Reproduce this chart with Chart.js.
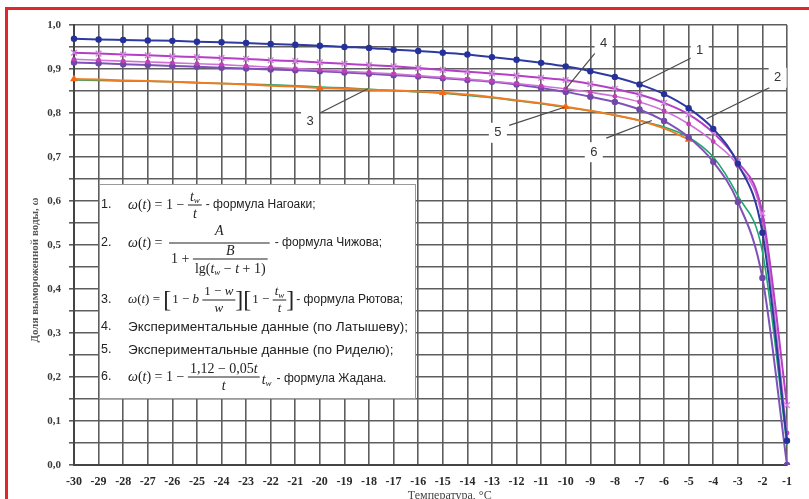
<!DOCTYPE html>
<html>
<head>
<meta charset="utf-8">
<script src="https://cdn.jsdelivr.net/npm/chart.js@4.4.1/dist/chart.umd.min.js"></script>
<style>
html, body { margin: 0; padding: 0; background: #fff; overflow: hidden; }
#wrap { position: relative; width: 809px; height: 499px; }
canvas { position: absolute; left: 0; top: 0; }
#frame { position: absolute; left: 5px; top: 7px; width: 830px; height: 530px;
  border-top: 3px solid #e1262e; border-left: 3px solid #e1262e; pointer-events: none; }
</style>
</head>
<body>
<div id="wrap">
	<canvas id="freezeChart" width="809" height="499"></canvas>
	<div id="frame"></div>
</div>
<script>
// temperatures, deg C
var temps = [-30, -29, -28, -27, -26, -25, -24, -23, -22, -21, -20, -19, -18, -17, -16,
	-15, -14, -13, -12, -11, -10, -9, -8, -7, -6, -5, -4, -3, -2, -1];
var yLabels = ['0,0', '0,1', '0,2', '0,3', '0,4', '0,5', '0,6', '0,7', '0,8', '0,9', '1,0'];

// curves
var nagoaki = [0.969, 0.967, 0.966, 0.965, 0.964, 0.962, 0.961, 0.959, 0.957, 0.955, 0.953, 0.950, 0.948, 0.944, 0.941,
	0.937, 0.933, 0.927, 0.921, 0.914, 0.906, 0.895, 0.882, 0.865, 0.843, 0.811, 0.764, 0.685, 0.528, 0.055];
var latyshev = [0.937, 0.935, 0.933, 0.931, 0.929, 0.927, 0.925, 0.923, 0.920, 0.918, 0.915, 0.912, 0.909, 0.906, 0.902,
	0.898, 0.894, 0.890, 0.885, 0.880, 0.875, 0.866, 0.855, 0.842, 0.823, 0.797, 0.755, 0.690, 0.572, 0.136];
var chizhov = [0.922, 0.920, 0.918, 0.916, 0.914, 0.912, 0.910, 0.907, 0.904, 0.901, 0.898, 0.895, 0.892, 0.889, 0.885,
	0.881, 0.877, 0.872, 0.867, 0.861, 0.855, 0.847, 0.838, 0.825, 0.805, 0.775, 0.735, 0.680, 0.557, 0.073];
var zhadan = [0.915, 0.913, 0.911, 0.909, 0.907, 0.905, 0.903, 0.901, 0.899, 0.897, 0.895, 0.892, 0.889, 0.886, 0.883,
	0.879, 0.875, 0.871, 0.865, 0.857, 0.848, 0.837, 0.825, 0.808, 0.782, 0.745, 0.689, 0.598, 0.425, 0.0];
var ryutov = [0.875, 0.874, 0.873, 0.872, 0.871, 0.869, 0.867, 0.866, 0.864, 0.862, 0.859, 0.857, 0.854, 0.851, 0.848,
	0.845, 0.840, 0.835, 0.828, 0.821, 0.813, 0.805, 0.795, 0.783, 0.768, 0.745, 0.700, 0.612, 0.485, 0.045];
var ridel = [0.877, 0.876, 0.874, 0.873, 0.871, 0.869, 0.867, 0.865, 0.862, 0.860, 0.857, 0.855, 0.853, 0.851, 0.849,
	0.846, 0.842, 0.836, 0.829, 0.822, 0.814, 0.805, 0.795, 0.783, 0.765, 0.740, null, null, null, null];
var ridelMeasured = [-30, -20, -15, -10, -5]; // triangles

// numbered callouts, in data units (temperature, fraction)
var callouts = [
	{ text: '1', at: [-4.55, 0.943], lines: [[[-4.9, 0.925], [-7.0, 0.866]]] },
	{ text: '4', at: [-8.46, 0.957], lines: [[[-8.75, 0.94], [-10.0, 0.855]]] },
	{ text: '2', at: [-1.38, 0.880], lines: [[[-1.7, 0.858], [-4.27, 0.787]]] },
	{ text: '3', at: [-20.4, 0.780], lines: [[[-20.0, 0.800], [-18.05, 0.855]]] },
	{ text: '5', at: [-12.76, 0.755], lines: [[[-12.3, 0.772], [-10.05, 0.813]]] },
	{ text: '6', at: [-8.86, 0.711], lines: [[[-8.35, 0.743], [-6.5, 0.783]]] }
];

var MI = 'italic 14px "Liberation Serif"', MR = '14px "Liberation Serif"', MS = 'italic 9px "Liberation Serif"';
var MI3 = 'italic 13px "Liberation Serif"', MR3 = '13px "Liberation Serif"';
var TX = '12px "Liberation Sans"', TX2 = '13.5px "Liberation Sans"', NUM = '12.5px "Liberation Sans"';

function measure(ctx, parts) {
	var w = 0;
	parts.forEach(function (p) { ctx.font = p[1]; w += ctx.measureText(p[0]).width; });
	return w;
}
function put(ctx, x, y, parts) {
	parts.forEach(function (p) {
		ctx.font = p[1];
		ctx.fillText(p[0], x, y + (p[2] || 0));
		x += ctx.measureText(p[0]).width;
	});
	return x;
}
function frac(ctx, x, y, num, den, gapUp, gapDown) {
	var wn = measure(ctx, num), wd = measure(ctx, den);
	var w = Math.max(wn, wd) + 4;
	put(ctx, x + (w - wn) / 2, y - (gapUp || 8), num);
	put(ctx, x + (w - wd) / 2, y + (gapDown || 9), den);
	ctx.fillRect(x, y - 0.5, w, 1);
	return x + w;
}

function drawFormulaBox(ctx) {
	var L = 99, T = 184, R = 416, B = 399;
	ctx.save();
	ctx.fillStyle = '#fff';
	ctx.fillRect(L, T, R - L, B - T);
	ctx.strokeStyle = '#9a9a9a';
	ctx.lineWidth = 1;
	ctx.strokeRect(L + 0.5, T + 0.5, R - L - 1, B - T - 1);
	ctx.fillStyle = '#222';
	ctx.textAlign = 'left';
	ctx.textBaseline = 'middle';
	var tw = [['t', MI], ['w', MS, 4]];
	var x;

	// 1
	put(ctx, 101, 205, [['1.', NUM]]);
	x = put(ctx, 128, 205, [['ω', MI], ['(', MR], ['t', MI], [')', MR], [' = 1 − ', MR]]);
	x = frac(ctx, x, 205, tw, [['t', MI]]);
	put(ctx, x + 4, 205, [['- формула Нагоаки;', TX]]);

	// 2
	put(ctx, 101, 243, [['2.', NUM]]);
	x = put(ctx, 128, 243, [['ω', MI], ['(', MR], ['t', MI], [')', MR], [' = ', MR]]);
	var lg = [['lg(', MR], ['t', MI], ['w', MS, 4], [' − ', MR], ['t', MI], [' + 1)', MR]];
	var one = [['1 + ', MR]];
	var denW = measure(ctx, one) + measure(ctx, lg) + 4;
	var barL = x + 3, barW = denW + 4;
	ctx.fillRect(barL, 242.5, barW, 1);
	put(ctx, barL + (barW - measure(ctx, [['A', MI]])) / 2, 231, [['A', MI]]);
	var x2 = put(ctx, barL + 2, 259, one);
	frac(ctx, x2, 259, [['B', MI]], lg, 8, 10);
	put(ctx, barL + barW + 5, 243, [['- формула Чижова;', TX]]);

	// 3
	put(ctx, 101, 300, [['3.', NUM]]);
	var BR = '24px "Liberation Serif"';
	x = put(ctx, 128, 300, [['ω', MI3], ['(', MR3], ['t', MI3], [')', MR3], [' = ', MR3], ['[', BR, 1]]);
	x = put(ctx, x + 1, 300, [['1 − ', MR3], ['b', MI3], [' ', MR3]]);
	x = frac(ctx, x, 300, [['1 − ', MR3], ['w', MI3]], [['w', MI3]]);
	x = put(ctx, x, 300, [[']', BR, 1], ['[', BR, 1]]);
	x = put(ctx, x + 1, 300, [['1 − ', MR3]]);
	x = frac(ctx, x, 300, [['t', MI3], ['w', MS, 4]], [['t', MI3]]);
	x = put(ctx, x, 300, [[']', BR, 1]]);
	put(ctx, x + 2, 300, [['- формула Рютова;', TX]]);

	// 4, 5
	put(ctx, 101, 327, [['4.', NUM]]);
	put(ctx, 128, 327, [['Экспериментальные данные (по Латышеву);', TX2]]);
	put(ctx, 101, 350, [['5.', NUM]]);
	put(ctx, 128, 350, [['Экспериментальные данные (по Риделю);', TX2]]);

	// 6
	put(ctx, 101, 377, [['6.', NUM]]);
	x = put(ctx, 128, 377, [['ω', MI], ['(', MR], ['t', MI], [')', MR], [' = 1 − ', MR]]);
	x = frac(ctx, x, 377, [['1,12 − 0,05', MR], ['t', MI]], [['t', MI]]);
	x = put(ctx, x + 2, 380, tw);
	put(ctx, x + 5, 379, [['- формула Жадана.', TX]]);
	ctx.restore();
}

var overlay = {
	id: 'overlay',
	afterDatasetsDraw: function (chart) {
		var ctx = chart.ctx, xs = chart.scales.x, ys = chart.scales.y;
		var px = function (t) { return xs.getPixelForValue(t + 30); };
		var py = function (v) { return ys.getPixelForValue(v); };
		ctx.save();
		ctx.strokeStyle = '#4a4a4a';
		ctx.lineWidth = 1.2;
		callouts.forEach(function (c) {
			c.lines.forEach(function (ln) {
				ctx.beginPath();
				ctx.moveTo(px(ln[0][0]), py(ln[0][1]));
				ctx.lineTo(px(ln[1][0]), py(ln[1][1]));
				ctx.stroke();
			});
		});
		ctx.font = '13px "Liberation Sans"';
		ctx.textAlign = 'center';
		ctx.textBaseline = 'middle';
		callouts.forEach(function (c) {
			var cx = px(c.at[0]), cy = py(c.at[1]);
			ctx.fillStyle = '#fff';
			ctx.fillRect(cx - 9, cy - 10, 18, 20);
			ctx.fillStyle = '#333';
			ctx.fillText(c.text, cx, cy);
		});
		ctx.restore();
	},
	afterDraw: function (chart) {
		var ctx = chart.ctx, area = chart.chartArea;
		drawFormulaBox(ctx);
		ctx.save();
		ctx.fillStyle = '#555';
		ctx.textAlign = 'center';
		ctx.textBaseline = 'middle';
		ctx.font = 'bold 11px "Liberation Serif"';
		ctx.translate(35, (area.top + area.bottom) / 2 + 25);
		ctx.rotate(-Math.PI / 2);
		ctx.fillText('Доля вымороженной воды, ω', 0, 0);
		ctx.restore();
		ctx.save();
		ctx.fillStyle = '#444';
		ctx.textAlign = 'center';
		ctx.textBaseline = 'top';
		ctx.font = '12px "Liberation Serif"';
		ctx.fillText('Температура, °С', area.left + (area.right - area.left) * 0.527, 490);
		ctx.restore();
	}
};

var gridColor = '#5e5e5e';
var ctx = document.getElementById('freezeChart').getContext('2d');
var freezeChart = new Chart(ctx, {
	type: 'line',
	data: {
		labels: temps.map(String),
		datasets: [{
			label: '1',
			data: nagoaki,
			borderColor: '#2e3aa0',
			backgroundColor: '#25309a',
			borderWidth: 2,
			pointRadius: 3.2,
			pointBorderWidth: 0
		}, {
			label: '4',
			data: latyshev,
			borderColor: '#b53fc5',
			backgroundColor: '#d582e2',
			pointBorderColor: '#d582e2',
			borderWidth: 2,
			pointStyle: 'crossRot',
			pointRadius: 4,
			pointBorderWidth: 1.4
		}, {
			label: '2',
			data: chizhov,
			borderColor: '#cf72d8',
			backgroundColor: '#c23db8',
			borderWidth: 1.6,
			pointRadius: 2.4,
			pointBorderWidth: 0
		}, {
			label: '6',
			data: zhadan,
			borderColor: '#7e52b8',
			backgroundColor: '#6f48a8',
			borderWidth: 2,
			pointRadius: 3.2,
			pointBorderWidth: 0
		}, {
			label: '5',
			data: ridel,
			borderColor: '#f07c22',
			backgroundColor: '#f06a18',
			borderWidth: 2,
			pointStyle: 'triangle',
			pointRadius: temps.map(function (t) { return ridelMeasured.indexOf(t) >= 0 ? 4.5 : 0; }),
			pointBorderWidth: 0
		}, {
			label: '3',
			data: ryutov,
			borderColor: '#21a673',
			borderWidth: 1.6,
			pointRadius: 0
		}]
	},
	options: {
		responsive: false,
		animation: false,
		cubicInterpolationMode: 'monotone',
		tension: 0.4,
		layout: { padding: { top: 25, right: 22, left: 0, bottom: 0 } },
		scales: {
			x: {
				offset: false,
				grid: { color: gridColor, lineWidth: 1.6, drawTicks: false },
				border: { color: '#444', width: 2 },
				ticks: {
					autoSkip: false,
					maxRotation: 0,
					padding: 10,
					color: '#2a2a2a',
					font: { family: 'Liberation Serif', weight: 'bold', size: 12 }
				},
				afterFit: function (scale) { scale.height = 34; }
			},
			y: {
				min: 0,
				max: 1,
				grid: { color: gridColor, lineWidth: 1.6, tickLength: 5 },
				border: { color: '#444', width: 2 },
				ticks: {
					stepSize: 0.05,
					padding: 8,
					color: '#3a3a3a',
					font: { family: 'Liberation Serif', weight: 'bold', size: 11 },
					callback: function (v) {
						var k = Math.round(v * 100);
						return k % 10 === 0 ? yLabels[k / 10] : '';
					}
				},
				afterFit: function (scale) { scale.width = 74; }
			}
		},
		plugins:
		{
			legend: { display: false },
			tooltip: { enabled: false }
		}
	},
	plugins: [overlay]
});
</script>
</body>
</html>
